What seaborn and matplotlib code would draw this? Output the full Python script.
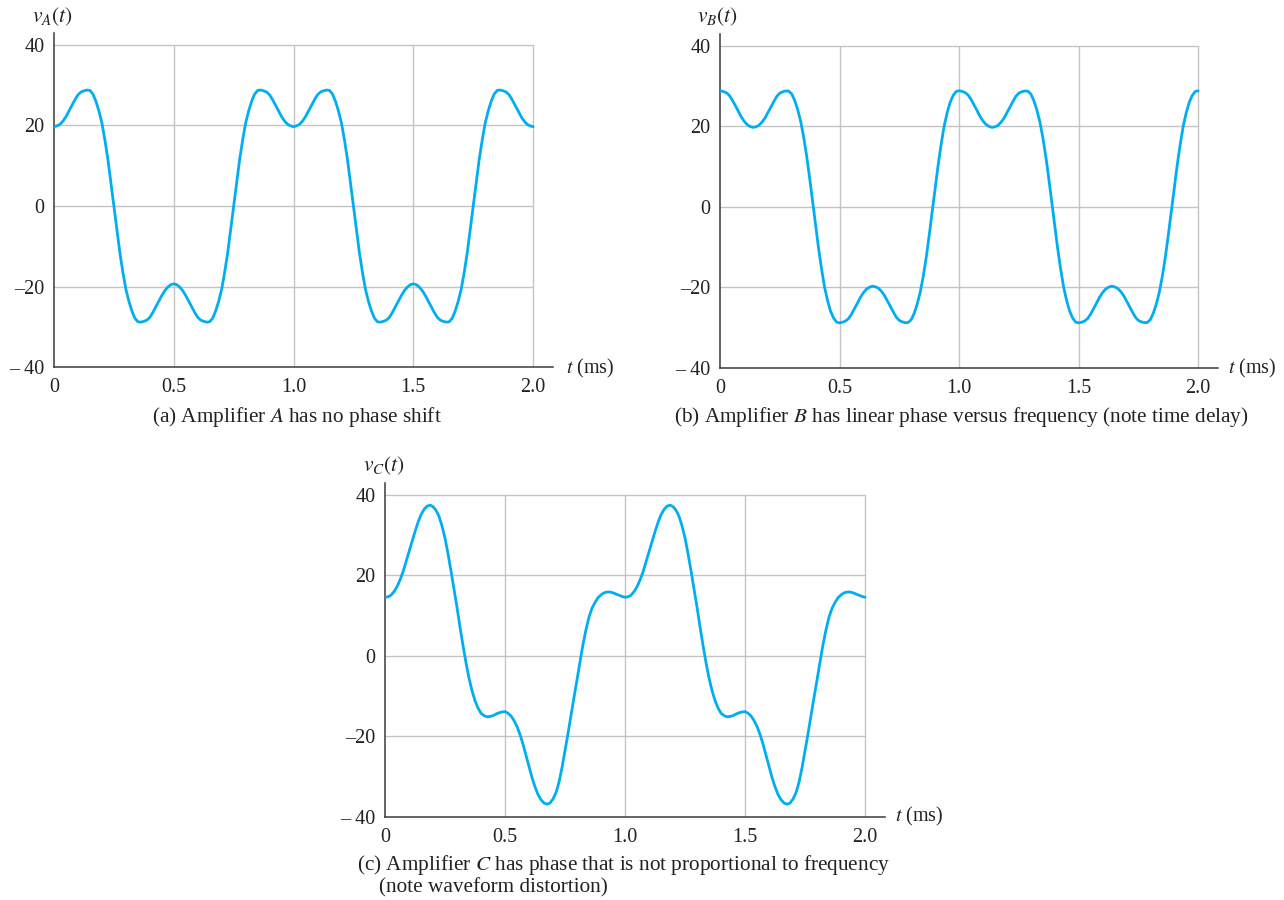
import numpy as np
import matplotlib
matplotlib.use("Agg")
import matplotlib.pyplot as plt
import seaborn as sns

sns.set_theme(style="white")
plt.rcParams['font.family'] = ['Liberation Serif', 'DejaVu Serif']
plt.rcParams['mathtext.fontset'] = 'stix'

# ---------------- data (t in ms, step 0.0125) ----------------
t_ms = np.round(np.arange(161) * 0.0125, 4)

vA = [19.7, 19.9, 20.3, 21.1, 22.2, 23.6, 25.0, 26.4, 27.6, 28.3, 28.6, 28.8, 28.7, 27.8, 26.0, 23.6, 20.6, 16.4, 11.6, 5.9, 0.0,
      -5.9, -11.6, -16.4, -20.6, -23.6, -26.0, -27.8, -28.7, -28.8, -28.6, -28.3, -27.6, -26.4, -25.0, -23.6, -22.2, -21.0, -20.1, -19.5, -19.3,
      -19.5, -20.1, -21.0, -22.2, -23.6, -25.0, -26.4, -27.6, -28.3, -28.6, -28.8, -28.7, -27.8, -26.0, -23.6, -20.6, -16.4, -11.6, -5.9, 0.0,
      5.9, 11.6, 16.4, 20.6, 23.6, 26.0, 27.8, 28.7, 28.8, 28.6, 28.3, 27.6, 26.4, 25.0, 23.6, 22.2, 21.1, 20.3, 19.9, 19.7,
      19.9, 20.3, 21.1, 22.2, 23.6, 25.0, 26.4, 27.6, 28.3, 28.6, 28.8, 28.7, 27.8, 26.0, 23.6, 20.6, 16.4, 11.6, 5.9, 0.0,
      -5.9, -11.6, -16.4, -20.6, -23.6, -26.0, -27.8, -28.7, -28.8, -28.6, -28.3, -27.6, -26.4, -25.0, -23.6, -22.2, -21.0, -20.1, -19.5, -19.3,
      -19.5, -20.1, -21.0, -22.2, -23.6, -25.0, -26.4, -27.6, -28.3, -28.6, -28.8, -28.7, -27.8, -26.0, -23.6, -20.6, -16.4, -11.6, -5.9, 0.0,
      5.9, 11.6, 16.4, 20.6, 23.6, 26.0, 27.8, 28.7, 28.8, 28.6, 28.3, 27.6, 26.4, 25.0, 23.6, 22.2, 21.1, 20.3, 19.9, 19.7]

vB = [28.8, 28.65, 28.35, 27.75, 26.65, 25.3, 23.9, 22.45, 21.3, 20.45, 19.95, 19.7, 19.85, 20.2, 20.95, 21.95, 23.3, 24.7, 26.1, 27.4,
      28.2, 28.55, 28.75, 28.7, 28.0, 26.4, 24.1, 21.2, 17.3, 12.6, 7.1, 1.2, -4.7, -10.4, -15.5, -20.0, -23.3, -25.9, -27.6, -28.6, -28.8,
      -28.65, -28.35, -27.75, -26.65, -25.3, -23.9, -22.45, -21.3, -20.45, -19.95, -19.7, -19.85, -20.2, -20.95, -21.95, -23.3, -24.7, -26.1, -27.4,
      -28.2, -28.55, -28.75, -28.7, -28.0, -26.4, -24.1, -21.2, -17.3, -12.6, -7.1, -1.2, 4.7, 10.4, 15.5, 20.0, 23.3, 25.9, 27.6, 28.6, 28.8,
      28.65, 28.35, 27.75, 26.65, 25.3, 23.9, 22.45, 21.3, 20.45, 19.95, 19.7, 19.85, 20.2, 20.95, 21.95, 23.3, 24.7, 26.1, 27.4,
      28.2, 28.55, 28.75, 28.7, 28.0, 26.4, 24.1, 21.2, 17.3, 12.6, 7.1, 1.2, -4.7, -10.4, -15.5, -20.0, -23.3, -25.9, -27.6, -28.6, -28.8,
      -28.65, -28.35, -27.75, -26.65, -25.3, -23.9, -22.45, -21.3, -20.45, -19.95, -19.7, -19.85, -20.2, -20.95, -21.95, -23.3, -24.7, -26.1, -27.4,
      -28.2, -28.55, -28.75, -28.7, -28.0, -26.4, -24.1, -21.2, -17.3, -12.6, -7.1, -1.2, 4.7, 10.4, 15.5, 20.0, 23.3, 25.9, 27.6, 28.6, 28.8]

vC = [14.5, 14.6, 15.0, 15.9, 17.1, 18.8, 20.8, 23.3, 25.8, 28.3, 30.8, 33.1, 35.0, 36.3, 37.1, 37.4, 37.0, 36.1, 34.6, 32.2,
      29.2, 25.3, 21.0, 16.5, 12.0, 7.1, 2.5, -1.8, -5.6, -8.7, -11.2, -13.0, -14.3, -14.9, -15.2, -15.1, -14.9, -14.5, -14.2, -14.0, -13.9,
      -14.3, -15.0, -16.1, -17.6, -19.6, -22.0, -24.8, -27.6, -30.3, -32.6, -34.5, -35.8, -36.6, -36.9, -36.6, -35.6, -34.0, -31.4, -27.8, -23.6,
      -19.3, -14.8, -10.3, -6.0, -1.5, 2.8, 6.5, 9.6, 11.8, 13.2, 14.4, 15.1, 15.6, 15.8, 15.8, 15.6, 15.3, 15.0, 14.7, 14.5,
      14.6, 15.0, 15.9, 17.1, 18.8, 20.8, 23.3, 25.8, 28.3, 30.8, 33.1, 35.0, 36.3, 37.1, 37.4, 37.0, 36.1, 34.6, 32.2,
      29.2, 25.3, 21.0, 16.5, 12.0, 7.1, 2.5, -1.8, -5.6, -8.7, -11.2, -13.0, -14.3, -14.9, -15.2, -15.1, -14.9, -14.5, -14.2, -14.0, -13.9,
      -14.3, -15.0, -16.1, -17.6, -19.6, -22.0, -24.8, -27.6, -30.3, -32.6, -34.5, -35.8, -36.6, -36.9, -36.6, -35.6, -34.0, -31.4, -27.8, -23.6,
      -19.3, -14.8, -10.3, -6.0, -1.5, 2.8, 6.5, 9.6, 11.8, 13.2, 14.4, 15.1, 15.6, 15.8, 15.8, 15.6, 15.3, 15.0, 14.7, 14.5]

assert len(vA) == len(vB) == len(vC) == len(t_ms)

x_ticks = [0, 0.5, 1.0, 1.5, 2.0]
x_tick_labels = ["0", "0.5", "1.0", "1.5", "2.0"]
y_ticks = [-40, -20, 0, 20, 40]
y_tick_labels = ["\u2013 40", "\u201320", "0", "20", "40"]
grid_x = [0.5, 1.0, 1.5, 2.0]
grid_y = [-20, 0, 20, 40]

y_names = [r"$v_A(t)$", r"$v_B(t)$", r"$v_C(t)$"]
x_name = r"$t$ (ms)"
captions = [r"(a) Amplifier $\mathit{A}$ has no phase shift",
            r"(b) Amplifier $\mathit{B}$ has linear phase versus frequency (note time delay)",
            r"(c) Amplifier $\mathit{C}$ has phase that is not proportional to frequency",
            "(note waveform distortion)"]

# ---------------- style ----------------
W, H = 1284, 900
LINE = "#00AEEF"
GRID = "#c4c4c4"
SPINE = "#3a3a3a"
TXT = "#222222"
FS = 14.5
FS_CAP = 15.3

fig = plt.figure(figsize=(W / 100, H / 100), dpi=100)


def px_rect(left, top, right, bottom):
    return [left / W, 1 - bottom / H, (right - left) / W, (bottom - top) / H]


def panel(rect, v, yname, xname_pos, yname_pos):
    ax = fig.add_axes(rect)
    for gy in grid_y:
        ax.plot([0, 2.0], [gy, gy], color=GRID, lw=1.0, zorder=1)
    for gx in grid_x:
        ax.plot([gx, gx], [-40, 40], color=GRID, lw=1.0, zorder=1)
    sns.lineplot(x=t_ms, y=v, ax=ax, color=LINE, linewidth=2.0,
                 estimator=None, sort=False, zorder=3,
                 solid_joinstyle="round", solid_capstyle="round")
    ax.set_xlim(0, 2.083)
    ax.set_ylim(-40, 43)
    for s in ["top", "right"]:
        ax.spines[s].set_visible(False)
    for s in ["left", "bottom"]:
        ax.spines[s].set_color(SPINE)
        ax.spines[s].set_linewidth(1.1)
    ax.set_xticks(x_ticks, x_tick_labels)
    ax.set_yticks(y_ticks, y_tick_labels)
    ax.tick_params(axis="both", length=0, labelsize=FS, colors=TXT)
    ax.tick_params(axis="x", pad=8)
    ax.tick_params(axis="y", pad=7)
    ax.set_xlabel("")
    ax.set_ylabel("")
    ax.grid(False)
    fig.text(xname_pos[0] / W, 1 - xname_pos[1] / H, x_name, fontsize=FS,
             ha="left", va="center", color=TXT)
    fig.text(yname_pos[0] / W, 1 - yname_pos[1] / H, yname, fontsize=FS + 1,
             ha="center", va="center", color=TXT)
    return ax


panel(px_rect(54, 32.8, 553, 367.3), vA, y_names[0], (566, 368), (53, 17))
panel(px_rect(720, 33.5, 1218, 368), vB, y_names[1], (1228, 368), (718, 17))
panel(px_rect(385, 482.5, 885, 816.7), vC, y_names[2], (895, 816), (384, 466))

fig.text(297 / W, 1 - 417 / H, captions[0], fontsize=FS_CAP, ha="center", va="center", color=TXT)
fig.text(961 / W, 1 - 417 / H, captions[1], fontsize=FS_CAP, ha="center", va="center", color=TXT)
fig.text(357 / W, 1 - 865 / H, captions[2], fontsize=FS_CAP, ha="left", va="center", color=TXT)
fig.text(379 / W, 1 - 888 / H, captions[3], fontsize=FS_CAP, ha="left", va="center", color=TXT)

fig.savefig("out.png", dpi=100, facecolor="white")
